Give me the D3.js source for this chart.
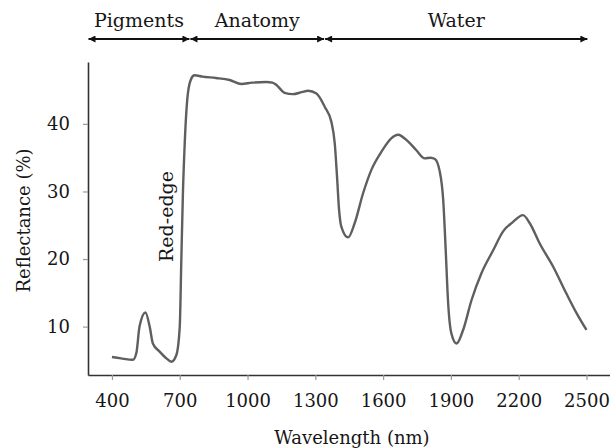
<!DOCTYPE html>
<html>
<head>
<meta charset="utf-8">
<script src="https://cdn.jsdelivr.net/npm/d3@7"></script>
<style>
  html, body { margin: 0; padding: 0; background: #fff; }
  svg { display: block; }
  text { font-family: "DejaVu Serif", "Liberation Serif", serif; fill: #161616; }
</style>
</head>
<body>
<div id="chart"></div>
<script>
// ---- data ----
const wavelength = [400, 440, 493, 508, 522, 548, 567, 581, 611, 641, 663, 685, 700, 707, 714, 722, 736, 751, 765, 800, 860, 921, 973, 1020, 1083, 1110, 1128, 1164, 1201, 1240, 1268, 1305, 1342, 1371, 1386, 1396, 1405, 1415, 1445, 1474, 1511, 1548, 1593, 1637, 1666, 1710, 1747, 1784, 1810, 1829, 1851, 1866, 1877, 1887, 1902, 1925, 1954, 1991, 2035, 2087, 2131, 2175, 2219, 2249, 2293, 2352, 2411, 2456, 2500];
const reflectance = [5.5, 5.3, 5.1, 6.1, 10.0, 12.1, 10.0, 7.5, 6.3, 5.3, 4.8, 5.8, 10.0, 19.9, 29.7, 37.1, 44.5, 46.7, 47.2, 47.0, 46.8, 46.5, 45.9, 46.1, 46.2, 46.1, 45.75, 44.6, 44.4, 44.7, 44.9, 44.5, 42.5, 40.3, 37.1, 32.2, 27.3, 24.8, 23.2, 25.3, 29.7, 33.2, 35.9, 37.9, 38.4, 37.4, 36.1, 34.9, 35.0, 34.8, 32.9, 28.7, 21.3, 13.9, 9.0, 7.5, 9.5, 13.9, 17.9, 21.3, 24.1, 25.5, 26.5, 25.3, 22.3, 18.9, 14.9, 12.0, 9.5];
const xTicks = [400, 700, 1000, 1300, 1600, 1900, 2200, 2500];
const yTicks = [10, 20, 30, 40];
const regionNames = ["Pigments", "Anatomy", "Water"];
const regionStart = [294, 745, 1341];
const regionEnd = [745, 1341, 2506];
const redEdgeLabel = "Red-edge";
const redEdgeAt = [637, 26.3]; // wavelength, reflectance of label centre
const xTitle = "Wavelength (nm)";
const yTitle = "Reflectance (%)";

// ---- layout ----
const W = 610, H = 448;
const mLeft = 88, mRight = 610, mTop = 62, mBottom = 375;
const svg = d3.select("#chart").append("svg").attr("width", W).attr("height", H);

const x = d3.scaleLinear().domain([294, 2604]).range([mLeft, mRight]);
const y = d3.scaleLinear().domain([2.84, 49.16]).range([mBottom, mTop]);

// axes
const xAxis = svg.append("g").attr("transform", `translate(0,${mBottom})`)
  .call(d3.axisBottom(x).tickValues(xTicks).tickFormat(d3.format("d")).tickSizeInner(5).tickSizeOuter(0).tickPadding(14));
const yAxis = svg.append("g").attr("transform", `translate(${mLeft},0)`)
  .call(d3.axisLeft(y).tickValues(yTicks).tickSizeInner(5).tickSizeOuter(0).tickPadding(13));
[xAxis, yAxis].forEach(g => {
  g.select(".domain").attr("stroke", "#333").attr("stroke-width", 1.6);
  g.selectAll(".tick line").attr("stroke", "#999").attr("stroke-width", 1.2);
  g.selectAll(".tick text").attr("font-size", 18).attr("font-family", "DejaVu Serif").attr("fill", "#161616");
});

// titles
svg.append("text").attr("x", (mLeft + mRight) / 2 + 3).attr("y", 444)
  .attr("text-anchor", "middle").attr("font-size", 18).text(xTitle);
svg.append("text").attr("transform", `translate(30,${(mTop + mBottom) / 2 + 2}) rotate(-90)`)
  .attr("text-anchor", "middle").attr("font-size", 18).text(yTitle);

// curve
const line = d3.line().x((d, i) => x(wavelength[i])).y(d => y(d)).curve(d3.curveMonotoneX);
svg.append("path").datum(reflectance).attr("d", line)
  .attr("fill", "none").attr("stroke", "#5f5f5f").attr("stroke-width", 2.4).attr("stroke-linejoin", "round");

// red-edge label
svg.append("text").attr("transform", `translate(${x(redEdgeAt[0]) + 7},${y(redEdgeAt[1])}) rotate(-90)`)
  .attr("text-anchor", "middle").attr("font-size", 19).text(redEdgeLabel);

// region arrows
const defs = svg.append("defs");
function marker(id, orient) {
  defs.append("marker").attr("id", id).attr("viewBox", "0 0 10 10").attr("refX", 10).attr("refY", 5)
    .attr("markerWidth", 8).attr("markerHeight", 7).attr("markerUnits", "userSpaceOnUse").attr("orient", orient)
    .append("path").attr("d", "M0,0 L10,5 L0,10 Z").attr("fill", "#111");
}
marker("arrowEnd", "auto");
marker("arrowStart", "auto-start-reverse");
const arrowY = 39;
regionNames.forEach((name, i) => {
  svg.append("line").attr("x1", x(regionStart[i]) + 0.5).attr("x2", x(regionEnd[i]) - 0.5)
    .attr("y1", arrowY).attr("y2", arrowY).attr("stroke", "#111").attr("stroke-width", 2)
    .attr("marker-start", "url(#arrowStart)").attr("marker-end", "url(#arrowEnd)");
  svg.append("text").attr("x", (x(regionStart[i]) + x(regionEnd[i])) / 2).attr("y", 27)
    .attr("text-anchor", "middle").attr("font-size", 19).text(name);
});
</script>
</body>
</html>
